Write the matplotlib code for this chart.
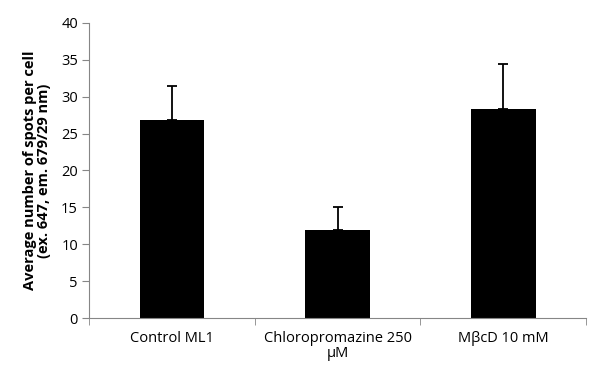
import numpy as np
import matplotlib.pyplot as plt

categories = ["Control ML1", "Chloropromazine 250\n\u03bcM", "M\u03b2cD 10 mM"]
means = [26.8, 12.0, 28.3]
errors = [4.7, 3.1, 6.1]

plt.rcParams['font.family'] = ['Open Sans', 'DejaVu Sans']

fig = plt.figure(figsize=(5.98, 3.69), dpi=100)
ax = fig.add_axes([0.149, 0.138, 0.831, 0.800])

x = np.arange(len(categories))
ax.bar(x, means, width=0.39, color='black', zorder=2)
ax.errorbar(x, means, yerr=[np.zeros(len(errors)), errors], fmt='none',
            ecolor='black', elinewidth=1.3, capsize=3.5, capthick=1.3, zorder=3)

ax.set_xlim(-0.5, 2.5)
ax.set_ylim(0, 40)
ax.set_yticks(np.arange(0, 41, 5))
ax.set_xticks(x)
ax.set_xticklabels(categories, fontsize=10.5, linespacing=1.05)
ax.set_xticks([-0.5, 0.5, 1.5, 2.5], minor=True)
ax.tick_params(axis='x', which='major', length=0, pad=9)
ax.tick_params(axis='x', which='minor', length=5, direction='out', color='#868686')
ax.tick_params(axis='y', length=5, direction='out', color='#868686', labelsize=10.5, pad=3)

for side in ['top', 'right']:
    ax.spines[side].set_visible(False)
for side in ['left', 'bottom']:
    ax.spines[side].set_color('#868686')

ax.set_ylabel("Average number of spots per cell\n(ex. 647, em. 679/29 nm)",
              fontsize=10.5, fontweight='bold', labelpad=7, linespacing=1.05)

fig.savefig('out.png', dpi=100)
